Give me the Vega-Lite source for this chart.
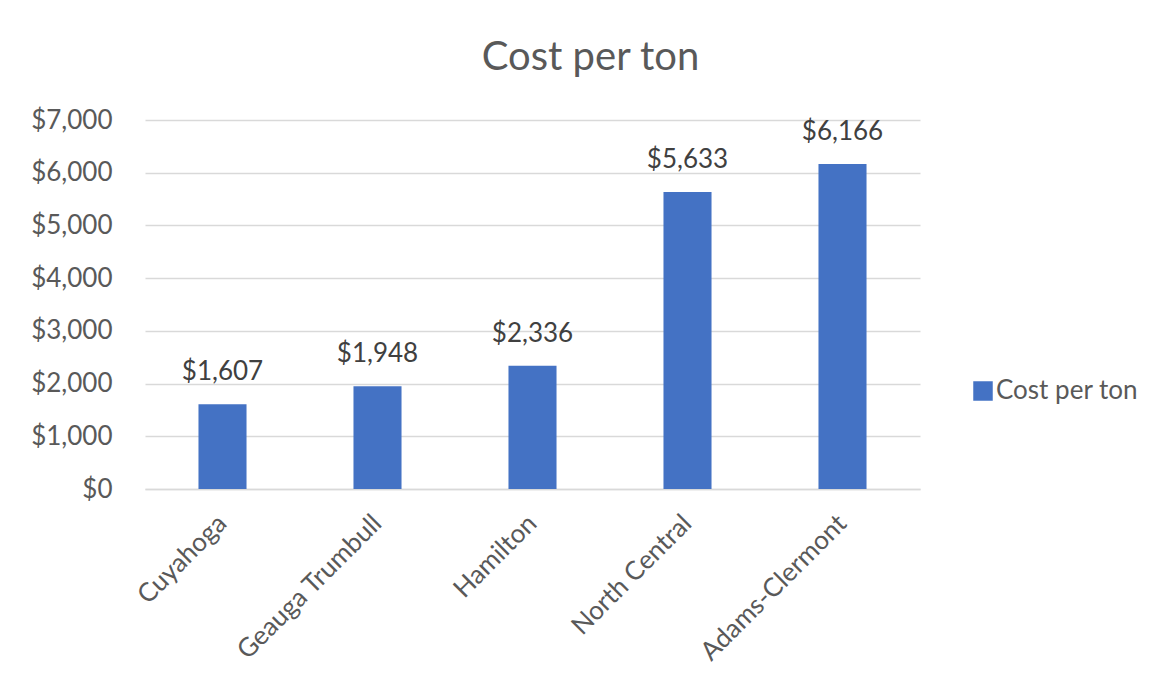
{
  "$schema": "https://vega.github.io/schema/vega-lite/v6.json",
  "width": 775,
  "height": 369,
  "autosize": {"type": "none"},
  "padding": {"left": 145, "top": 120, "right": 243, "bottom": 203},
  "background": "white",
  "title": {
    "text": "Cost per ton",
    "font": "Lato",
    "fontSize": 40,
    "fontWeight": "normal",
    "color": "#595959",
    "anchor": "middle",
    "dx": 58,
    "dy": 54,
    "baseline": "alphabetic",
    "offset": 51
  },
  "data": {
    "values": [
      {"region": "Cuyahoga", "cost": 1607, "series": "Cost per ton"},
      {"region": "Geauga Trumbull", "cost": 1948, "series": "Cost per ton"},
      {"region": "Hamilton", "cost": 2336, "series": "Cost per ton"},
      {"region": "North Central", "cost": 5633, "series": "Cost per ton"},
      {"region": "Adams-Clermont", "cost": 6166, "series": "Cost per ton"}
    ]
  },
  "config": {
    "view": {"stroke": null},
    "font": "Lato"
  },
  "encoding": {
    "x": {
      "field": "region",
      "type": "nominal",
      "sort": null,
      "scale": {"paddingInner": 0.69, "paddingOuter": 0.345},
      "axis": {
        "title": null,
        "labelAngle": -45,
        "labelAlign": "right",
        "labelBaseline": "middle",
        "labelFont": "Lato",
        "labelFontSize": 26,
        "labelColor": "#595959",
        "labelPadding": 30,
        "ticks": false,
        "domainColor": "#D9D9D9",
        "domainWidth": 1.5,
        "grid": false,
        "labelOverlap": false,
        "labelLimit": 400
      }
    },
    "y": {
      "field": "cost",
      "type": "quantitative",
      "scale": {"domain": [0, 7000], "nice": false},
      "axis": {
        "title": null,
        "values": [0, 1000, 2000, 3000, 4000, 5000, 6000, 7000],
        "format": "$,.0f",
        "labelFont": "Lato",
        "labelFontSize": 26,
        "labelColor": "#595959",
        "labelPadding": 33,
        "ticks": false,
        "domain": false,
        "gridColor": "#D9D9D9",
        "gridWidth": 1.5
      }
    }
  },
  "layer": [
    {
      "mark": {"type": "bar", "color": "#4472C4"},
      "encoding": {
        "color": {
          "field": "series",
          "type": "nominal",
          "scale": {"range": ["#4472C4"]},
          "legend": {
            "title": null,
            "orient": "none",
            "legendX": 825,
            "legendY": 258,
            "padding": 0,
            "symbolType": "square",
            "symbolSize": 380,
            "symbolStrokeWidth": 0,
            "labelFont": "Lato",
            "labelFontSize": 26,
            "labelColor": "#595959",
            "labelOffset": 0
          }
        }
      }
    },
    {
      "mark": {
        "type": "text",
        "baseline": "alphabetic",
        "dy": -24,
        "font": "Lato",
        "fontSize": 26,
        "color": "#404040"
      },
      "encoding": {
        "text": {"field": "cost", "type": "quantitative", "format": "$,.0f"}
      }
    }
  ]
}
